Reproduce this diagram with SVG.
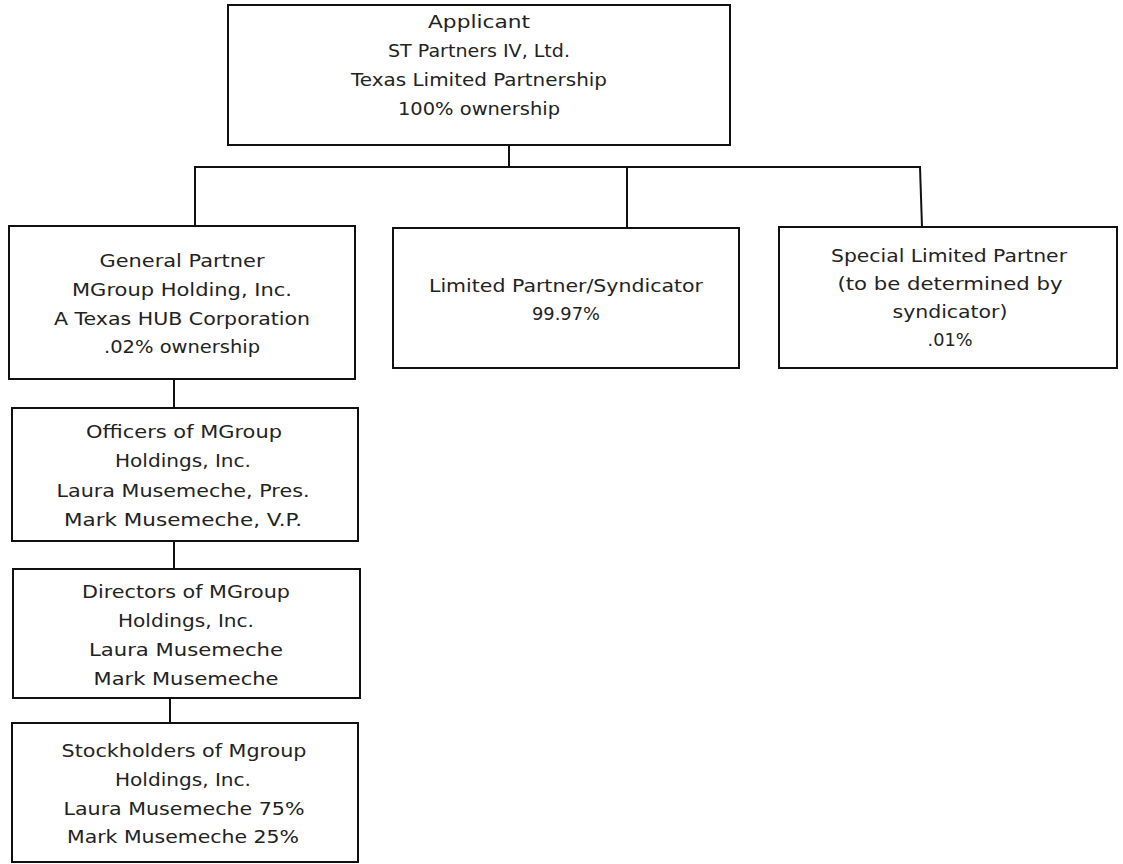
<svg xmlns="http://www.w3.org/2000/svg" width="1123" height="864" viewBox="0 0 1123 864">
<style>
.box{fill:#fff;stroke:#111;stroke-width:2}
.c{stroke:#111;stroke-width:2;fill:none}
text{font-family:"DejaVu Sans","Liberation Sans",sans-serif;font-size:18px;fill:#222;text-anchor:middle}
</style>
<rect width="1123" height="864" fill="#fff"/>
<g id="connectors">
<line class="c" x1="509" y1="145" x2="509" y2="167"/>
<line class="c" x1="194" y1="167" x2="921" y2="167"/>
<line class="c" x1="195" y1="167" x2="195" y2="226"/>
<line class="c" x1="627" y1="167" x2="627" y2="228"/>
<line class="c" x1="920" y1="167" x2="922" y2="227"/>
<line class="c" x1="174" y1="379" x2="174" y2="408"/>
<line class="c" x1="174" y1="541" x2="174" y2="569"/>
<line class="c" x1="170" y1="698" x2="170" y2="723"/>
</g>
<g id="applicant">
<rect class="box" x="228" y="5" width="502" height="140"/>
<text x="479" y="28" textLength="102" lengthAdjust="spacingAndGlyphs">Applicant</text>
<text x="479" y="57" textLength="182" lengthAdjust="spacingAndGlyphs">ST Partners IV, Ltd.</text>
<text x="479" y="86" textLength="256" lengthAdjust="spacingAndGlyphs">Texas Limited Partnership</text>
<text x="479" y="115" textLength="162" lengthAdjust="spacingAndGlyphs">100% ownership</text>
</g>
<g id="general-partner">
<rect class="box" x="9" y="226" width="346" height="153"/>
<text x="182" y="267" textLength="165" lengthAdjust="spacingAndGlyphs">General Partner</text>
<text x="182" y="296" textLength="220" lengthAdjust="spacingAndGlyphs">MGroup Holding, Inc.</text>
<text x="182" y="325" textLength="256" lengthAdjust="spacingAndGlyphs">A Texas HUB Corporation</text>
<text x="182" y="353" textLength="156" lengthAdjust="spacingAndGlyphs">.02% ownership</text>
</g>
<g id="limited-partner">
<rect class="box" x="393" y="228" width="346" height="140"/>
<text x="566" y="292" textLength="274" lengthAdjust="spacingAndGlyphs">Limited Partner/Syndicator</text>
<text x="566" y="320" textLength="68" lengthAdjust="spacingAndGlyphs">99.97%</text>
</g>
<g id="special-limited-partner">
<rect class="box" x="779" y="227" width="338" height="141"/>
<text x="949" y="262" textLength="236" lengthAdjust="spacingAndGlyphs">Special Limited Partner</text>
<text x="950" y="290" textLength="225" lengthAdjust="spacingAndGlyphs">(to be determined by</text>
<text x="950" y="318" textLength="115" lengthAdjust="spacingAndGlyphs">syndicator)</text>
<text x="950" y="346" textLength="45" lengthAdjust="spacingAndGlyphs">.01%</text>
</g>
<g id="officers">
<rect class="box" x="12" y="408" width="346" height="133"/>
<text x="184" y="438" textLength="196" lengthAdjust="spacingAndGlyphs">Officers of MGroup</text>
<text x="183" y="467" textLength="136" lengthAdjust="spacingAndGlyphs">Holdings, Inc.</text>
<text x="183" y="497" textLength="253" lengthAdjust="spacingAndGlyphs">Laura Musemeche, Pres.</text>
<text x="183" y="526" textLength="238" lengthAdjust="spacingAndGlyphs">Mark Musemeche, V.P.</text>
</g>
<g id="directors">
<rect class="box" x="13" y="569" width="347" height="129"/>
<text x="186" y="598" textLength="208" lengthAdjust="spacingAndGlyphs">Directors of MGroup</text>
<text x="186" y="627" textLength="136" lengthAdjust="spacingAndGlyphs">Holdings, Inc.</text>
<text x="186" y="656" textLength="194" lengthAdjust="spacingAndGlyphs">Laura Musemeche</text>
<text x="186" y="685" textLength="185" lengthAdjust="spacingAndGlyphs">Mark Musemeche</text>
</g>
<g id="stockholders">
<rect class="box" x="12" y="723" width="346" height="139"/>
<text x="184" y="757" textLength="245" lengthAdjust="spacingAndGlyphs">Stockholders of Mgroup</text>
<text x="183" y="786" textLength="136" lengthAdjust="spacingAndGlyphs">Holdings, Inc.</text>
<text x="184" y="815" textLength="241" lengthAdjust="spacingAndGlyphs">Laura Musemeche 75%</text>
<text x="183" y="843" textLength="232" lengthAdjust="spacingAndGlyphs">Mark Musemeche 25%</text>
</g>
</svg>
